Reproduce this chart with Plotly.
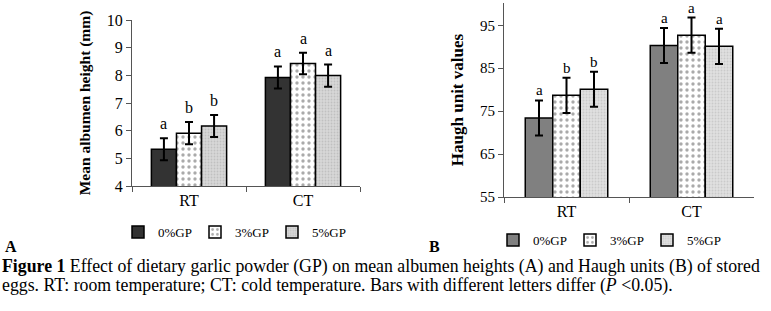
import plotly.graph_objects as go

categories = ["RT", "CT"]
groups = ["0% GP", "3% GP", "5% GP"]

# Panel A: mean albumen height (mm)
albumen_0 = [5.33, 7.92]
albumen_3 = [5.91, 8.43]
albumen_5 = [6.17, 7.99]
albumen_err_0 = [0.40, 0.40]
albumen_err_3 = [0.40, 0.39]
albumen_err_5 = [0.40, 0.40]
albumen_letters_0 = ["a", "a"]
albumen_letters_3 = ["b", "a"]
albumen_letters_5 = ["b", "a"]

# Panel B: Haugh unit values
haugh_0 = [73.4, 90.3]
haugh_3 = [78.7, 92.7]
haugh_5 = [80.1, 90.1]
haugh_err_0 = [4.1, 4.1]
haugh_err_3 = [4.1, 4.1]
haugh_err_5 = [4.1, 4.1]
haugh_letters_0 = ["a", "a"]
haugh_letters_3 = ["b", "a"]
haugh_letters_5 = ["b", "a"]

albumen_ticks = [4, 5, 6, 7, 8, 9, 10]
haugh_ticks = [55, 65, 75, 85, 95]

caption_line1 = "<b>Figure 1</b> Effect of dietary garlic powder (GP) on mean albumen heights (A) and Haugh units (B) of stored"
caption_line2 = "eggs. RT: room temperature; CT: cold temperature. Bars with different letters differ (<i>P</i> &lt;0.05)."

FONT = "Liberation Serif, Times New Roman, serif"
W, H = 771, 311

def px_x(p):
    return p / W

def px_y(p):
    return 1 - p / H

styles_A = [
    dict(color="#333333", pattern=dict(shape="")),
    dict(color="white", pattern=dict(shape=".", fgcolor="#555555", bgcolor="white", size=6, solidity=0.25)),
    dict(color="#d2d2d2", pattern=dict(shape=".", fgcolor="#a8a8a8", bgcolor="#d8d8d8", size=3, solidity=0.3)),
]
styles_B = [
    dict(color="#808080", pattern=dict(shape="")),
    dict(color="white", pattern=dict(shape=".", fgcolor="#555555", bgcolor="white", size=6, solidity=0.25)),
    dict(color="#dcdcdc", pattern=dict(shape=".", fgcolor="#b4b4b4", bgcolor="#e0e0e0", size=3, solidity=0.3)),
]

fig = go.Figure()

A_vals = [albumen_0, albumen_3, albumen_5]
A_errs = [albumen_err_0, albumen_err_3, albumen_err_5]
A_lets = [albumen_letters_0, albumen_letters_3, albumen_letters_5]
B_vals = [haugh_0, haugh_3, haugh_5]
B_errs = [haugh_err_0, haugh_err_3, haugh_err_5]
B_lets = [haugh_letters_0, haugh_letters_3, haugh_letters_5]

legend_names = ["0%GP", "3%GP", "5%GP"]

for j in range(3):
    fig.add_trace(go.Bar(
        x=categories, y=A_vals[j], name=legend_names[j],
        marker=dict(color=styles_A[j]["color"], pattern=styles_A[j]["pattern"],
                    line=dict(color="black", width=1.5)),
        error_y=dict(type="data", array=A_errs[j], color="black", thickness=2, width=4),
        xaxis="x", yaxis="y", legend="legend", offsetgroup=str(j),
    ))
for j in range(3):
    fig.add_trace(go.Bar(
        x=categories, y=B_vals[j], name=legend_names[j],
        marker=dict(color=styles_B[j]["color"], pattern=styles_B[j]["pattern"],
                    line=dict(color="black", width=1.5)),
        error_y=dict(type="data", array=B_errs[j], color="black", thickness=2, width=4),
        xaxis="x2", yaxis="y2", legend="legend2", offsetgroup=str(j),
    ))

bargap = 0.34
bw = (1 - bargap) / 3
annotations = []
for j in range(3):
    off = (j - 1) * bw
    for i in range(len(categories)):
        annotations.append(dict(
            x=i + off, y=A_vals[j][i] + A_errs[j][i], xref="x", yref="y",
            text=A_lets[j][i], showarrow=False, yanchor="bottom", yshift=4,
            font=dict(family=FONT, size=16, color="black")))
        annotations.append(dict(
            x=i + off, y=B_vals[j][i] + B_errs[j][i], xref="x2", yref="y2",
            text=B_lets[j][i], showarrow=False, yanchor="bottom", yshift=0,
            font=dict(family=FONT, size=15, color="black")))

annotations += [
    dict(x=px_x(3), y=px_y(246), xref="paper", yref="paper", text="<b>A</b>",
         showarrow=False, xanchor="left", yanchor="middle", font=dict(family=FONT, size=16, color="black")),
    dict(x=px_x(427), y=px_y(246), xref="paper", yref="paper", text="<b>B</b>",
         showarrow=False, xanchor="left", yanchor="middle", font=dict(family=FONT, size=16, color="black")),
    dict(x=0, y=px_y(266), xref="paper", yref="paper", text=caption_line1,
         showarrow=False, xanchor="left", yanchor="middle", align="left",
         font=dict(family=FONT, size=17.8, color="black")),
    dict(x=0, y=px_y(285), xref="paper", yref="paper", text=caption_line2,
         showarrow=False, xanchor="left", yanchor="middle", align="left",
         font=dict(family=FONT, size=17.8, color="black")),
]

axis_common = dict(showline=True, linecolor="#555555", linewidth=1, ticks="outside",
                   ticklen=5, tickcolor="#555555", showgrid=False, zeroline=False,
                   automargin=False)

fig.update_layout(
    width=W, height=H, margin=dict(l=0, r=0, t=0, b=0, autoexpand=False),
    paper_bgcolor="white", plot_bgcolor="white",
    barmode="group", bargap=bargap, bargroupgap=0,
    font=dict(family=FONT, color="black"),
    xaxis=dict(domain=[px_x(132), px_x(360)], anchor="y", type="category",
               tickson="boundaries", tickfont=dict(family=FONT, size=16, color="black"), **axis_common),
    yaxis=dict(domain=[px_y(186), px_y(20)], anchor="x", range=[4, 10], tickvals=albumen_ticks,
               tickfont=dict(family=FONT, size=16, color="black"),
               title=dict(text="<b>Mean albumen height (mm)</b>", font=dict(family=FONT, size=15.5), standoff=12),
               **axis_common),
    xaxis2=dict(domain=[px_x(504), px_x(754)], anchor="y2", type="category",
                tickson="boundaries", tickfont=dict(family=FONT, size=16, color="black"), **axis_common),
    yaxis2=dict(domain=[px_y(197), px_y(3)], anchor="x2", range=[55, 100.2], tickvals=haugh_ticks,
                tickfont=dict(family=FONT, size=15, color="black"),
                title=dict(text="<b>Haugh unit values</b>", font=dict(family=FONT, size=17), standoff=12),
                **axis_common),
    legend=dict(orientation="h", x=px_x(118), y=px_y(232), xanchor="left", yanchor="middle",
                font=dict(family=FONT, size=13, color="black"), itemwidth=30, entrywidth=32,
                bgcolor="rgba(0,0,0,0)", tracegroupgap=0),
    legend2=dict(orientation="h", x=px_x(493), y=px_y(240), xanchor="left", yanchor="middle",
                 font=dict(family=FONT, size=13, color="black"), itemwidth=30, entrywidth=32,
                 bgcolor="rgba(0,0,0,0)", tracegroupgap=0),
    annotations=annotations,
    showlegend=True,
)

fig.write_html("out.html", config={"displayModeBar": False},
               post_script="document.body.style.margin='0';")
